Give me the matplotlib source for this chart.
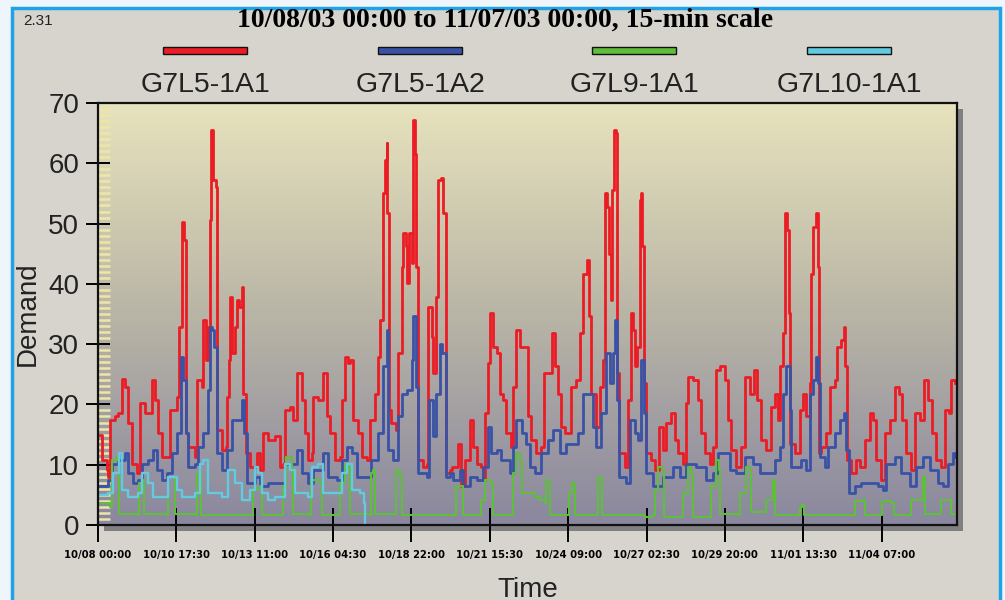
import numpy as np
import matplotlib
matplotlib.use('Agg')
import matplotlib.pyplot as plt
from matplotlib.patches import Rectangle
from matplotlib.colors import LinearSegmentedColormap
from matplotlib.ticker import MultipleLocator
from matplotlib import font_manager

plt.rcParams['font.family'] = ['Liberation Sans', 'DejaVu Sans']

title = "10/08/03 00:00 to 11/07/03 00:00, 15-min scale"
series_names = ['G7L5-1A1', 'G7L5-1A2', 'G7L9-1A1', 'G7L10-1A1']
series_colors = ['#ec1c24', '#3a52a6', '#5fbf3c', '#62cbe0']

# x positions are hours after 10/08 00:00
tick_hours = [0, 65.5, 131, 196.5, 262, 327.5, 393, 458.5, 524, 589.5, 655]
tick_labels = ['10/08 00:00', '10/10 17:30', '10/13 11:00', '10/16 04:30',
               '10/18 22:00', '10/21 15:30', '10/24 09:00', '10/27 02:30',
               '10/29 20:00', '11/01 13:30', '11/04 07:00']

red_t = [1.7, 3.1, 7.2, 8.6, 10.0, 14.2, 17.0, 19.8, 22.6, 25.3, 28.1, 32.3, 35.1, 39.3, 44.8,
         47.6, 50.4, 53.2, 57.4, 60.2, 65.7, 67.7, 69.9, 72.1, 73.2, 75.5, 81.0, 82.4, 86.6, 88.0,
         90.0, 92.2, 93.6, 94.7, 96.4, 98.3, 99.7, 103.3, 106.7, 108.1, 109.4, 110.6, 112.2, 114.5, 115.8,
         117.8, 120.0, 121.4, 123.4, 127.0, 132.6, 135.3, 138.1, 142.3, 147.9,
         152.1, 154.8, 156.2, 160.4, 163.2, 166.0, 170.2, 172.9, 175.7, 178.5, 179.9, 184.1, 187.7, 191.0,
         193.8, 198.0, 202.2, 203.6, 206.4, 209.1, 210.5, 213.3, 217.5, 220.3, 224.5, 227.2, 231.4, 234.2,
         235.6, 238.4, 239.8, 241.2, 241.7, 243.4, 245.3, 249.0, 250.9, 253.7, 255.1, 257.3, 258.4, 260.1,
         262.1, 263.4, 264.8, 266.2, 267.6, 271.8, 274.6, 276.0, 278.8, 280.1, 282.4, 284.3, 287.1, 288.5,
         290.7, 294.1,
         295.5, 301.0, 303.8, 306.6, 310.8, 313.6, 316.4, 320.5, 321.9, 323.3, 326.1, 327.5, 330.3, 333.1,
         335.8, 338.6, 341.4, 345.6, 347.0, 349.8, 352.6, 356.7, 359.5, 362.3, 366.5, 370.7, 372.6, 376.2,
         379.6, 381.8, 384.6, 387.4, 390.2, 393.5, 395.2, 399.9, 402.7, 405.5, 409.1, 410.2, 412.4, 416.6,
         419.4, 422.2, 424.1, 425.8, 426.9, 428.6, 429.7, 431.4, 432.8, 434.1, 435.3,
         440.3, 443.1, 445.8, 447.2, 448.6, 450.6, 452.8, 454.2, 455.0, 456.1, 458.4, 462.6, 465.3, 469.0,
         472.3, 475.1, 479.3, 482.0, 484.8, 489.0, 491.8, 493.2, 497.4, 501.5, 504.3, 507.1, 511.3, 514.1,
         516.9, 519.6, 523.8, 526.6, 529.4, 533.6, 537.7, 540.5, 544.7, 548.0, 550.8, 554.5, 558.6, 562.8,
         565.6, 568.4, 569.8, 572.5, 573.9, 575.9, 577.6, 578.7, 582.3,
         586.5, 589.3, 592.0, 594.8, 595.7, 597.6, 600.4, 601.8, 602.6, 604.6, 608.8, 611.5, 615.7, 617.9,
         621.3, 623.5, 624.6, 626.3, 629.6, 633.8, 636.6, 640.8, 645.0, 647.7, 650.5, 654.7, 658.0, 661.7,
         665.8, 669.2, 672.0, 675.6, 679.8, 683.1, 686.7, 690.3, 693.7, 697.0, 700.6, 704.8, 707.6, 710.9,
         713.2, 716.0]
red_v = [14.9, 10.8, 9.1, 8.0, 17.4, 18.0, 18.5, 24.3, 22.9, 16.9, 10.2, 8.6, 20.2, 18.5, 24.0,
         20.7, 15.2, 11.3, 11.3, 19.1, 21.3, 32.9, 50.3, 47.3, 15.2, 13.0, 11.3, 24.0, 22.9, 34.0,
         27.4, 32.9, 50.6, 65.5, 57.2, 56.1, 15.8, 12.4, 13.0, 21.3, 27.4, 37.9, 28.5, 32.9, 37.3,
         36.2, 39.5, 21.8, 11.9, 9.7, 11.9, 9.1, 15.2, 14.1, 14.7,
         9.7, 10.2, 19.1, 19.6, 17.4, 25.2, 20.7, 15.2, 10.8, 11.9, 21.3, 20.7, 25.2, 18.0,
         15.2, 10.8, 11.3, 20.7, 27.9, 26.8, 27.4, 17.4, 15.2, 11.3, 10.8, 17.4, 21.8, 27.9,
         34.0, 55.0, 60.5, 63.3, 51.7, 19.1, 16.9, 15.8, 28.5, 42.8, 48.4, 46.2, 40.1, 48.4,
         43.4, 67.2, 61.6, 42.8, 10.8, 9.7, 10.2, 36.2, 31.2, 25.2, 37.9, 57.2, 57.5, 51.7,
         8.6, 9.1,
         9.7, 13.5, 6.4, 10.8, 17.4, 13.0, 10.2, 9.7, 7.5, 18.5, 26.8, 35.1, 29.6, 28.5,
         21.8, 20.7, 15.2, 13.0, 22.9, 32.3, 29.6, 29.6, 18.0, 14.1, 11.9, 13.0, 25.2, 25.2,
         31.8, 26.3, 21.8, 16.3, 15.2, 15.2, 22.9, 24.0, 31.8, 41.7, 43.9, 34.6, 21.8, 16.3,
         22.9, 27.4, 55.0, 52.8, 45.0, 37.3, 55.6, 65.5, 65.0, 25.2, 11.9,
         9.7, 20.7, 35.1, 32.3, 26.3, 29.6, 53.9, 55.0, 46.2, 23.5, 11.9, 10.8, 9.1, 16.3,
         12.4, 16.9, 18.5, 14.1, 11.9, 10.2, 20.2, 24.6, 24.0, 20.7, 15.2, 11.9, 10.2, 13.0,
         25.7, 26.3, 24.0, 17.4, 12.4, 9.7, 13.0, 24.6, 21.8, 25.7, 20.7, 14.1, 12.4, 19.6,
         21.8, 17.4, 26.3, 31.8, 51.7, 48.9, 35.1, 13.5, 11.9,
         19.1, 21.8, 18.0, 23.5, 41.7, 49.5, 51.7, 42.8, 11.9, 13.0, 15.2, 22.9, 24.0, 29.6,
         30.7, 32.9, 26.3, 10.8, 8.6, 10.8, 9.7, 14.1, 18.5, 17.4, 10.8, 7.5, 15.2, 17.4,
         22.9, 21.8, 17.4, 11.9, 9.1, 18.5, 17.4, 24.0, 20.7, 15.2, 10.8, 9.7, 19.1, 18.5,
         24.0, 23.5]

blue_t = [1.7, 8.6, 11.4, 17.0, 22.6, 25.3, 29.5, 33.7, 36.5, 42.1, 46.2, 49.0, 53.2, 57.4, 61.5,
          65.7, 69.3, 71.3, 73.2, 75.5, 81.0, 83.8, 88.0, 92.2, 93.6, 95.5, 97.2, 99.1, 103.3, 107.5,
          111.7, 115.8, 120.0, 122.3, 124.2, 131.2, 135.3, 142.3, 147.9,
          152.1, 156.2, 161.8, 166.0, 170.2, 175.7, 179.9, 188.3, 192.4, 199.4, 203.6, 207.8, 211.9,
          216.1, 224.5, 228.6, 234.2, 238.4, 241.2, 242.6, 246.7, 250.9, 253.7, 257.9, 262.1, 263.4,
          265.7, 267.6, 274.6, 276.8, 280.1, 282.9, 285.7, 287.9, 290.7, 294.1,
          296.9, 302.4, 305.2, 310.8, 316.4, 321.9, 326.1, 328.9, 333.1, 337.2, 344.2, 347.0, 349.8,
          354.0, 358.1, 360.9, 365.1, 370.7, 376.2, 380.4, 386.0, 391.5, 395.7, 401.3, 405.5, 409.6,
          413.8, 416.6, 420.8, 425.0, 427.7, 430.5, 432.5, 434.1, 435.3,
          441.7, 444.5, 448.6, 451.4, 454.2, 456.1, 458.4, 463.9, 472.3, 480.7, 486.2, 491.8, 500.1,
          508.5, 514.1, 518.3, 522.4, 528.0, 533.6, 540.5, 547.5, 553.1, 560.0, 565.6, 569.8, 572.5,
          575.3, 578.1, 579.5,
          587.9, 592.0, 594.8, 597.6, 600.4, 601.8, 603.2, 607.4, 610.1, 615.7, 619.9, 623.5, 625.5,
          627.4, 632.4, 638.0, 645.0, 651.9, 656.1, 658.9, 665.8, 671.4, 678.4, 684.0, 689.5, 695.1,
          702.0, 706.2, 710.4, 714.6, 716.5]
blue_v = [6.4, 7.5, 10.2, 10.8, 11.9, 8.6, 6.9, 7.5, 10.2, 10.8, 12.4, 9.1, 7.5, 8.6, 11.9,
          15.2, 27.9, 24.0, 15.2, 9.7, 10.2, 13.0, 15.2, 22.4, 32.9, 32.3, 29.6, 11.9, 9.1, 12.4,
          17.4, 17.4, 20.7, 15.2, 6.9, 8.0, 6.4, 6.9, 6.9,
          6.9, 10.2, 10.2, 12.4, 8.6, 6.9, 9.1, 11.9, 8.0, 7.5, 10.8, 13.0, 11.9,
          8.0, 8.0, 10.8, 15.2, 26.3, 32.3, 12.4, 10.8, 18.0, 21.8, 22.4, 27.4, 34.6,
          22.9, 8.6, 8.0, 20.7, 14.7, 21.8, 30.1, 28.5, 8.0, 8.6,
          7.5, 9.1, 6.4, 8.0, 7.5, 9.7, 16.3, 11.9, 12.4, 10.8, 8.6, 13.0, 17.4,
          15.2, 13.5, 9.7, 8.6, 11.9, 14.1, 15.8, 11.9, 13.5, 13.5, 15.2, 21.8, 21.8,
          16.3, 13.0, 18.5, 28.5, 23.5, 28.5, 34.0, 20.7, 8.0,
          6.9, 17.4, 15.2, 14.1, 27.4, 18.5, 8.6, 6.4, 8.0, 9.7, 8.0, 10.2, 9.7,
          7.5, 8.6, 11.9, 11.9, 9.1, 8.6, 11.3, 10.2, 8.6, 8.6, 10.8, 13.0, 21.8,
          26.3, 19.1, 9.7,
          10.8, 9.1, 21.8, 24.0, 27.9, 23.5, 11.3, 9.7, 13.0, 15.2, 17.4, 18.5, 12.4,
          5.3, 6.4, 6.9, 6.9, 6.4, 5.8, 10.2, 11.3, 8.6, 6.4, 9.7, 11.3, 9.1,
          6.9, 6.4, 10.2, 11.9, 11.3]

green_t = [1.7, 10.0, 11.4, 15.6, 17.5, 33.1, 34.3, 36.5, 38.7, 57.4, 58.8, 63.0, 64.3, 81.0, 82.4,
           85.2, 86.1, 128.4, 129.8, 135.3, 137.3, 147.9,
           153.4, 154.3, 157.0, 160.4, 161.8, 162.6, 176.6, 177.7, 185.5, 186.9, 200.8, 202.2, 206.4,
           209.1, 210.5, 227.2, 228.6, 230.0, 231.4, 248.1, 249.5, 252.3, 253.7, 294.1,
           298.5, 299.6, 303.8, 305.2, 319.1, 320.5, 323.3, 328.9, 330.3, 345.6, 347.0, 349.8, 352.6,
           354.0, 365.1, 369.3, 373.4, 374.8, 376.8, 377.6, 391.5, 393.5, 396.3, 398.5, 416.6, 418.0,
           420.2, 421.3, 440.3,
           457.0, 463.9, 465.3, 468.1, 471.7, 472.9, 487.6, 489.0, 493.2, 496.0, 497.4, 511.3, 512.7,
           516.9, 519.1, 520.2, 535.0, 536.9, 541.9, 544.7, 546.1, 555.8, 558.6, 564.2, 565.6, 583.7,
           586.5,
           588.4, 590.1, 629.6, 632.4, 639.4, 641.3, 653.3, 655.3, 663.1, 665.3, 678.4, 679.8, 688.1,
           689.5, 690.9, 702.6, 704.3, 710.9, 712.6, 716.5]
green_v = [3.6, 3.0, 10.8, 11.3, 1.9, 1.6, 6.9, 7.5, 1.9, 1.6, 8.0, 8.0, 1.9, 1.6, 8.6,
           8.6, 1.6, 1.6, 6.0, 6.5, 1.6, 1.6,
           1.6, 6.4, 11.3, 11.3, 8.6, 1.9, 1.6, 7.5, 6.9, 1.6, 1.6, 6.9, 10.2,
           9.7, 1.9, 1.6, 8.6, 9.1, 1.9, 1.6, 9.1, 8.0, 1.6, 1.6,
           1.6, 6.4, 6.4, 1.6, 1.6, 4.1, 7.5, 6.9, 1.6, 1.6, 8.6, 11.9, 10.8,
           5.3, 4.7, 4.1, 3.6, 7.5, 6.9, 1.6, 1.6, 5.3, 6.9, 1.6, 1.6, 8.0,
           7.5, 1.6, 1.6,
           1.4, 1.6, 5.8, 9.7, 9.1, 1.4, 1.4, 5.3, 9.7, 8.6, 1.4, 1.4, 6.4,
           10.8, 9.1, 1.9, 1.6, 5.3, 9.7, 9.1, 2.2, 2.2, 4.1, 7.5, 1.6, 1.6,
           3.0,
           3.3, 1.6, 1.6, 3.9, 4.1, 1.6, 1.6, 3.9, 3.6, 1.6, 1.6, 4.1, 4.1,
           8.0, 1.9, 1.9, 4.1, 4.1, 1.9, 1.9]

cyan_t = [1.7, 8.6, 12.8, 17.5, 19.8, 25.3, 33.7, 36.5, 42.1, 46.2, 56.0, 58.8, 63.0, 65.7, 70.2,
          81.0, 85.2, 88.0, 92.2, 103.3, 108.9, 114.5, 120.0, 127.0, 131.2, 134.0, 136.7, 142.3,
          147.9, 152.1, 156.2, 160.4, 164.6, 175.7, 178.5, 184.1, 188.3, 199.4, 203.6, 207.8, 211.9,
          218.9, 222.2, 223.1]
cyan_v = [4.9, 5.3, 8.6, 11.9, 5.8, 4.7, 5.3, 8.6, 6.9, 4.7, 4.7, 8.0, 8.0, 5.8, 4.7,
          5.3, 10.2, 10.8, 5.3, 4.7, 9.1, 6.9, 4.1, 5.8, 9.7, 8.6, 5.3, 4.1,
          4.7, 4.7, 10.2, 9.1, 5.3, 4.7, 9.7, 10.2, 5.3, 5.3, 8.6, 10.2, 5.8,
          5.3, 3.6, 0.3]

W, H = 1005, 600
fig = plt.figure(figsize=(W / 100, H / 100), dpi=100, facecolor='#eef6fb')

# panel with blue frame, and the shadow behind the plot
fig.patches.append(Rectangle((12 / W, -0.05), 988 / W, 1.05 - 8 / H, transform=fig.transFigure,
                             facecolor='#d7d4ce', edgecolor='#1ea3e8', lw=2.5, zorder=-3))
fig.patches.append(Rectangle((104 / W, 69 / H), 859 / W, 422 / H, transform=fig.transFigure,
                             facecolor='#808084', edgecolor='none', zorder=-2))

ax = fig.add_axes([98 / W, 75 / H, 859 / W, 422 / H], zorder=1)

bg = LinearSegmentedColormap.from_list('bg', ['#8a879f', '#b9b5a6', '#e7e3bd'])
ax.imshow(np.linspace(0, 1, 256).reshape(-1, 1), cmap=bg, extent=[0, 718, 0, 70],
          origin='lower', aspect='auto', zorder=0)

# the logger records in steps, so draw each series as a step line
for t, v, c, lw in [(red_t, red_v, series_colors[0], 2.0), (blue_t, blue_v, series_colors[1], 2.0),
                    (green_t, green_v, series_colors[2], 1.5), (cyan_t, cyan_v, series_colors[3], 1.7)]:
    ax.plot(t, v, color=c, lw=lw, drawstyle='steps-post', zorder=2)

ax.set_xlim(0, 718)
ax.set_ylim(0, 70)
for s in ax.spines.values():
    s.set_linewidth(1.6)
    s.set_color('#111111')

ax.set_yticks(range(0, 71, 10))
ax.yaxis.set_minor_locator(MultipleLocator(1))
ax.tick_params(axis='y', which='major', direction='inout', length=17, width=1.4,
               labelsize=20, pad=5, labelcolor='#222222')
ax.tick_params(axis='y', which='minor', direction='in', length=8.5, width=1.8, color='#ede6a8')
ax.set_xticks(tick_hours, tick_labels)
ax.tick_params(axis='x', which='major', direction='inout', length=24, width=1.4, pad=6)

installed = {f.name for f in font_manager.fontManager.ttflist}
narrow = 'Liberation Sans Narrow' if 'Liberation Sans Narrow' in installed else 'DejaVu Sans'
for lbl in ax.get_xticklabels():
    if narrow == 'DejaVu Sans':
        lbl.set_family('DejaVu Sans')
        lbl.set_fontstretch('condensed')
        lbl.set_fontsize(8)
    else:
        lbl.set_family(narrow)
        lbl.set_fontsize(9.5)
    lbl.set_weight('bold')

fig.text(28 / W, 1 - 314 / H, 'Demand', rotation=90, ha='center', va='center',
         fontsize=20, color='#222222')
fig.text(528 / W, 1 - 577 / H, 'Time', ha='center', va='top', fontsize=20, color='#222222')

fig.text(505 / W, 1 - 27 / H, title, ha='center', va='baseline', fontsize=20,
         weight='bold', family=['Liberation Serif', 'DejaVu Serif'])
fig.text(23 / W, 1 - 25 / H, '2.31', ha='left', va='baseline', fontsize=11, color='#222222')

legend_x = [205, 420, 634, 849]
for name, c, cx in zip(series_names, series_colors, legend_x):
    fig.patches.append(Rectangle(((cx - 42) / W, 1 - 54 / H), 84 / W, 7 / H,
                                 transform=fig.transFigure, facecolor=c,
                                 edgecolor='#111111', lw=1.0, zorder=3))
    fig.text(cx / W, 1 - 92 / H, name, ha='center', va='baseline', fontsize=20.5, color='#222222')

fig.savefig('out.png', dpi=100, facecolor=fig.get_facecolor())
